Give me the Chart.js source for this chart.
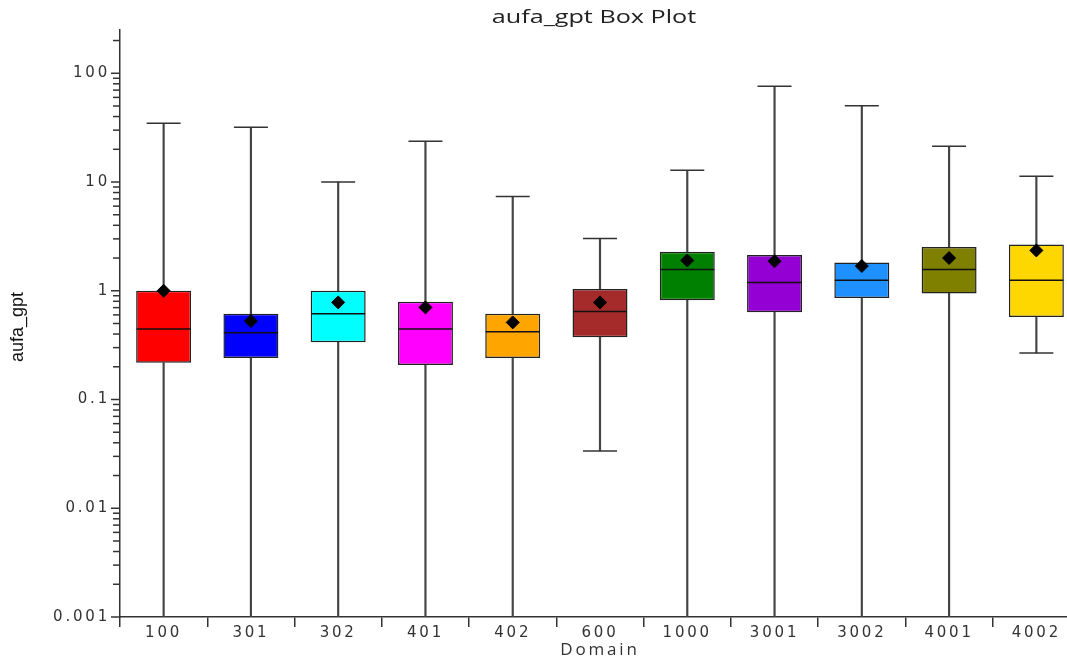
<!DOCTYPE html>
<html>
<head>
<meta charset="utf-8">
<script src="https://cdn.jsdelivr.net/npm/chart.js@4"></script>
<style>
  html, body { margin: 0; padding: 0; background: #fff; overflow: hidden; }
  #wrap { position: relative; width: 1080px; height: 662px; }
  #boxChart { display: block; }
  #title {
    position: absolute; top: 4px; left: 594px;
    font-family: 'Open Sans', sans-serif; font-size: 18px; line-height: 24px;
    color: #222; white-space: nowrap;
    transform: translateX(-50%) scaleX(1.4);
  }
</style>
</head>
<body>
<div id="wrap">
  <canvas id="boxChart" width="1080" height="662"></canvas>
  <div id="title">aufa_gpt Box Plot</div>
</div>
<script>
// 数据
const domains = ['100', '301', '302', '401', '402', '600', '1000', '3001', '3002', '4001', '4002'];
const whiskerLow = [0.001, 0.001, 0.001, 0.001, 0.001, 0.0337, 0.001, 0.001, 0.001, 0.001, 0.268];
const q1 = [0.218, 0.241, 0.336, 0.208, 0.241, 0.373, 0.816, 0.634, 0.857, 0.946, 0.573];
const medians = [0.445, 0.411, 0.615, 0.445, 0.42, 0.646, 1.57, 1.19, 1.25, 1.57, 1.25];
const q3 = [1.0, 0.615, 1.0, 0.792, 0.615, 1.04, 2.28, 2.13, 1.82, 2.52, 2.67];
const whiskerHigh = [34.7, 31.9, 10.0, 23.7, 7.36, 3.03, 12.8, 75.8, 50.4, 21.3, 11.3];
const means = [1.0, 0.527, 0.782, 0.703, 0.512, 0.782, 1.90, 1.87, 1.69, 2.0, 2.35];
const boxColors = ['#FF0000', '#0000FF', '#00FFFF', '#FF00FF', '#FFA500', '#A52A2A',
                   '#008000', '#9400D3', '#1E90FF', '#808000', '#FFD700'];
const yTickLabels = ['0.001', '0.01', '0.1', '1', '10', '100'];

const Y_MIN = 0.001;
const Y_MAX = 250;

// 坐标轴装饰：字距、次刻度、纵轴标题
const axisDecor = {
  id: 'axisDecor',
  beforeDraw(chart) {
    chart.ctx.letterSpacing = '2.8px';
  },
  beforeDatasetsDraw(chart) {
    chart.ctx.letterSpacing = '0px';
  },
  afterDraw(chart) {
    const ctx = chart.ctx;
    const y = chart.scales.y;
    ctx.save();
    ctx.strokeStyle = '#333';
    ctx.lineWidth = 1.5;
    y.ticks.forEach(t => {
      const exp = Math.floor(Math.log10(t.value) + 1e-9);
      const m = t.value / Math.pow(10, exp);
      if (Math.abs(m - Math.round(m)) > 1e-6) return;
      const py = y.getPixelForValue(t.value);
      const len = Math.round(m) === 1 ? 9 : 7;
      ctx.beginPath();
      ctx.moveTo(y.right - len, py);
      ctx.lineTo(y.right, py);
      ctx.stroke();
    });
    // 纵轴标题
    ctx.letterSpacing = '0px';
    ctx.font = "18px 'Liberation Sans', sans-serif";
    ctx.fillStyle = '#111';
    ctx.translate(18, 327);
    ctx.rotate(-Math.PI / 2);
    ctx.textAlign = 'center';
    ctx.textBaseline = 'middle';
    ctx.fillText('aufa_gpt', 0, 0);
    ctx.restore();
  }
};

const ctx = document.getElementById('boxChart').getContext('2d');

new Chart(ctx, {
  type: 'bar',
  data: {
    labels: domains,
    datasets: [
      {
        type: 'line',
        label: 'mean',
        data: means,
        showLine: false,
        pointStyle: 'rectRot',
        pointRadius: 6.5,
        pointBackgroundColor: '#000',
        pointBorderColor: '#000',
        pointBorderWidth: 1,
        order: 0
      },
      {
        type: 'line',
        label: 'median',
        data: medians,
        showLine: false,
        pointStyle: 'line',
        pointRadius: 27,
        pointBorderColor: '#111',
        pointBorderWidth: 1.5,
        order: 1
      },
      {
        type: 'line',
        label: 'capHigh',
        data: whiskerHigh,
        showLine: false,
        pointStyle: 'line',
        pointRadius: 17,
        pointBorderColor: '#333',
        pointBorderWidth: 1.5,
        order: 2
      },
      {
        type: 'line',
        label: 'capLow',
        data: whiskerLow.map(v => v > Y_MIN ? v : null),
        showLine: false,
        pointStyle: 'line',
        pointRadius: 17,
        pointBorderColor: '#333',
        pointBorderWidth: 1.5,
        order: 2
      },
      {
        label: 'box',
        data: q1.map((v, i) => [v, q3[i]]),
        backgroundColor: boxColors,
        borderColor: '#222',
        borderWidth: 1.5,
        borderSkipped: false,
        grouped: false,
        barPercentage: 0.63,
        categoryPercentage: 1,
        order: 3
      },
      {
        label: 'whiskerHigh',
        data: q3.map((v, i) => [v, whiskerHigh[i]]),
        backgroundColor: '#444',
        borderWidth: 0,
        grouped: false,
        barThickness: 1.5,
        order: 4
      },
      {
        label: 'whiskerLow',
        data: q1.map((v, i) => [whiskerLow[i], v]),
        backgroundColor: '#444',
        borderWidth: 0,
        grouped: false,
        barThickness: 1.5,
        order: 4
      }
    ]
  },
  options: {
    responsive: false,
    animation: false,
    events: [],
    layout: { autoPadding: false, padding: { top: 30, left: 0, right: 0, bottom: 0 } },
    plugins: {
      legend: { display: false },
      tooltip: { enabled: false },
      title: { display: false }
    },
    scales: {
      x: {
        offset: true,
        afterFit(scale) { scale.height = 45; },
        grid: {
          offset: true,
          drawOnChartArea: false,
          tickLength: 10,
          color: '#333',
          lineWidth: 1.5
        },
        border: { color: '#333', width: 1.5 },
        ticks: {
          color: '#333',
          padding: -3,
          maxRotation: 0,
          autoSkip: false,
          font: { family: "'DejaVu Sans', sans-serif", size: 15 }
        },
        title: {
          display: true,
          text: 'Domain',
          color: '#333',
          padding: { top: 0, bottom: 2 },
          font: { family: "'Open Sans', sans-serif", size: 17 }
        }
      },
      y: {
        type: 'logarithmic',
        min: Y_MIN,
        max: Y_MAX,
        afterFit(scale) { scale.width = 120; },
        grid: { drawOnChartArea: false, drawTicks: false },
        border: { color: '#333', width: 1.5 },
        ticks: {
          color: '#333',
          padding: 10,
          autoSkip: false,
          font: { family: "'DejaVu Sans', sans-serif", size: 15 },
          callback: function(value) {
            const s = String(Number(value.toPrecision(6)));
            return yTickLabels.includes(s) ? s : '';
          }
        },
        title: { display: false }
      }
    }
  },
  plugins: [axisDecor]
});
</script>
</body>
</html>
